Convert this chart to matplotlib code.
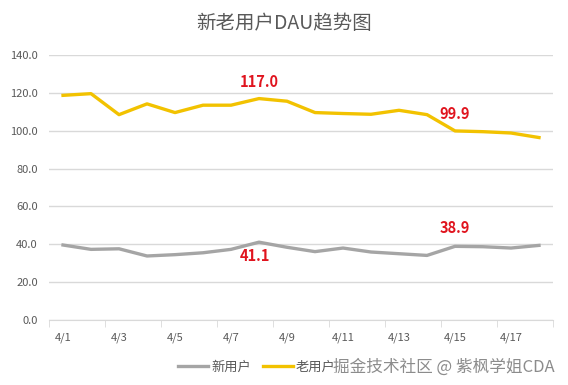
import matplotlib
matplotlib.use("Agg")
import matplotlib.pyplot as plt
from matplotlib.lines import Line2D

plt.rcParams['font.family'] = ['Noto Sans CJK SC', 'DejaVu Sans']

days = ["4/%d" % d for d in range(1, 19)]
new_users = [39.6, 37.3, 37.6, 33.8, 34.5, 35.5, 37.3, 41.1, 38.4,
             36.1, 38.0, 35.9, 35.0, 34.1, 38.9, 38.7, 38.0, 39.4]
old_users = [118.7, 119.6, 108.5, 114.2, 109.6, 113.5, 113.5, 117.0, 115.6,
             109.6, 109.1, 108.7, 110.8, 108.5, 99.9, 99.5, 98.8, 96.4]
peak_labels = {7: ("117.0", "41.1"), 14: ("99.9", "38.9")}

text_color = "#595959"
grid_color = "#D9D9D9"
gray = "#A5A5A5"
gold = "#F2C200"
red = "#E0141E"

fig = plt.figure(figsize=(5.68, 3.85), dpi=100)
ax = fig.add_axes([0.0863, 0.169, 0.8873, 0.688])

x = list(range(len(days)))
ax.plot(x, new_users, color=gray, lw=2.4, solid_joinstyle="round")
ax.plot(x, old_users, color=gold, lw=2.4, solid_joinstyle="round")

# highlighted values
for i, (old_lab, new_lab) in peak_labels.items():
    ax.annotate(old_lab, (i, old_users[i]), xytext=(0, 12), textcoords="offset points",
                ha="center", va="center", color=red, fontsize=10.5, fontweight="bold")
    if i == 7:
        off = (-3, -10)
    else:
        off = (0, 13)
    ax.annotate(new_lab, (i, new_users[i]), xytext=off, textcoords="offset points",
                ha="center", va="center", color=red, fontsize=10.5, fontweight="bold")

ax.set_xlim(-0.5, len(days) - 0.5)
ax.set_ylim(0, 140)
ax.set_yticks(range(0, 141, 20))
ax.set_yticklabels(["%.1f" % v for v in range(0, 141, 20)])
ax.yaxis.grid(True, color=grid_color, lw=1)
ax.set_axisbelow(True)

ax.set_xticks(x[::2])
ax.set_xticklabels(days[::2])
ax.set_xticks([i - 0.5 for i in range(0, len(days) + 1, 2)], minor=True)
ax.tick_params(axis="x", which="major", length=0, pad=9, colors=text_color, labelsize=8)
ax.tick_params(axis="x", which="minor", length=5, color=grid_color, direction="out")
ax.tick_params(axis="y", length=0, pad=8, colors=text_color, labelsize=8)

for side in ["top", "right", "left"]:
    ax.spines[side].set_visible(False)
ax.spines["bottom"].set_color(grid_color)

fig.text(0.5, 0.938, "新老用户DAU趋势图", ha="center", va="center",
         color=text_color, fontsize=14)

handles = [Line2D([], [], color=gray, lw=2.4), Line2D([], [], color=gold, lw=2.4)]
fig.legend(handles, ["新用户", "老用户"], loc="center", bbox_to_anchor=(0.452, 0.046),
           ncol=2, frameon=False, fontsize=9.5, labelcolor=text_color,
           handlelength=2.27, handletextpad=0.2, columnspacing=0.9)

fig.text(0.977, 0.046, "掘金技术社区 @ 紫枫学姐CDA", ha="right", va="center",
         color="#8C8C8C", fontsize=12)

fig.savefig("out.png", dpi=100)
